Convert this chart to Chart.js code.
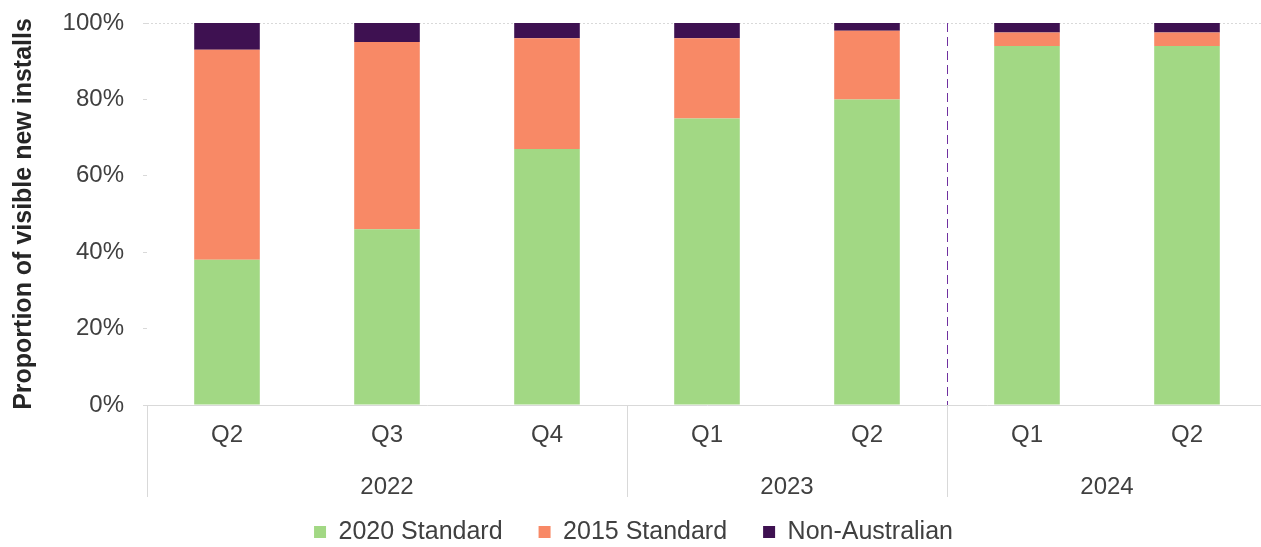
<!DOCTYPE html>
<html>
<head>
<meta charset="utf-8">
<script src="https://cdn.jsdelivr.net/npm/chart.js@4.4.1/dist/chart.umd.min.js"></script>
<style>
  html, body { margin: 0; padding: 0; overflow: hidden; background: #fff; }
  #wrap { position: absolute; left: 0; top: 0; width: 1270px; height: 547px; }
</style>
</head>
<body>
<div id="wrap"><canvas id="chart"></canvas></div>
<script>
const quarters = ['Q2', 'Q3', 'Q4', 'Q1', 'Q2', 'Q1', 'Q2'];
const years = ['2022', '2023', '2024'];
const quartersPerYear = [3, 2, 2];
const std2020 = [38, 46, 67, 75, 80, 94, 94];
const std2015 = [55, 49, 29, 21, 18, 3.5, 3.5];
const nonAustralian = [7, 5, 4, 4, 2, 2.5, 2.5];
const dashedBeforeYear = '2024';

const FONT = "'Liberation Sans', Arial, sans-serif";
const TEXT = '#404040';
const LIGHT = '#d9d9d9';

// where each year starts, and the middle of each year group (in category index units)
const yearStarts = [];
const yearMiddles = [];
let n = 0;
quartersPerYear.forEach(c => {
    yearStarts.push(n);
    yearMiddles.push(n + (c - 1) / 2);
    n += c;
});

// Dashed divider between two years, placed from the x scale
const dividerLine = {
    id: 'dividerLine',
    afterDatasetsDraw(chart) {
        const x = chart.scales.x;
        const i = yearStarts[years.indexOf(dashedBeforeYear)];
        const px = Math.round((x.getPixelForValue(i - 1) + x.getPixelForValue(i)) / 2) + 0.5;
        const { top, bottom } = chart.chartArea;
        const ctx = chart.ctx;
        ctx.save();
        ctx.strokeStyle = '#7030A0';
        ctx.lineWidth = 1;
        ctx.setLineDash([9, 5]);
        ctx.beginPath();
        ctx.moveTo(px, top);
        ctx.lineTo(px, bottom);
        ctx.stroke();
        ctx.restore();
    }
};

// legend keeps a short box in the layout but its items sit a bit lower down
const legendShift = {
    id: 'legendShift',
    afterLayout(chart) {
        chart.legend.top -= 15;
    }
};

const ctx = document.getElementById('chart').getContext('2d');
new Chart(ctx, {
    type: 'bar',
    data: {
        labels: quarters,
        datasets: [
            { label: '2020 Standard', data: std2020, backgroundColor: '#A2D884' },
            { label: '2015 Standard', data: std2015, backgroundColor: '#F88966' },
            { label: 'Non-Australian', data: nonAustralian, backgroundColor: '#3E1151' }
        ]
    },
    options: {
        responsive: true,
        maintainAspectRatio: false,
        animation: false,
        datasets: { bar: { barPercentage: 0.41, categoryPercentage: 1 } },
        layout: { padding: { top: 23, right: 3, left: 0, bottom: 0 } },
        plugins: {
            tooltip: { enabled: false },
            legend: {
                position: 'bottom',
                maxHeight: 48.5,
                labels: {
                    boxWidth: 12,
                    boxHeight: 12,
                    padding: 36,
                    color: TEXT,
                    font: { family: FONT, size: 25 }
                }
            }
        },
        scales: {
            x: {
                type: 'category',
                stacked: true,
                weight: 0,
                grid: {
                    offset: true,
                    drawOnChartArea: false,
                    drawTicks: true,
                    tickLength: 92,
                    tickWidth: 1,
                    tickColor: c => (c.index === undefined || yearStarts.includes(c.index)) ? LIGHT : 'rgba(0,0,0,0)'
                },
                border: { display: true, color: LIGHT, width: 1 },
                ticks: {
                    color: TEXT,
                    font: { family: FONT, size: 24 },
                    padding: -76,
                    maxRotation: 0,
                    autoSkip: false
                },
                afterFit: s => { s.height = 45; }
            },
            x2: {
                type: 'linear',
                position: 'bottom',
                weight: 1,
                offset: false,
                min: -0.5,
                max: quarters.length - 0.5,
                grid: { display: false, offset: false },
                border: { display: false },
                afterBuildTicks: s => { s.ticks = yearMiddles.map(v => ({ value: v })); },
                ticks: {
                    callback: (v, i) => years[i],
                    color: TEXT,
                    font: { family: FONT, size: 24 },
                    padding: 15,
                    maxRotation: 0,
                    autoSkip: false
                },
                afterFit: s => { s.height = 48.5; }
            },
            y: {
                stacked: true,
                min: 0,
                max: 100,
                ticks: {
                    stepSize: 20,
                    callback: v => v + '%',
                    color: TEXT,
                    font: { family: FONT, size: 24 },
                    padding: 19
                },
                grid: {
                    drawTicks: true,
                    tickLength: 4,
                    tickColor: LIGHT,
                    color: c => (c.tick && c.tick.value === 100) ? LIGHT : 'rgba(0,0,0,0)'
                },
                border: { display: false, dash: [2, 2] },
                title: {
                    display: true,
                    text: 'Proportion of visible new installs',
                    color: '#262626',
                    font: { family: FONT, size: 25, weight: 'bold' },
                    padding: { top: 9, bottom: 0 }
                },
                afterFit: s => {
                    s.width = 147;
                    s.paddingTop = 0;
                    s.paddingBottom = 0;
                }
            }
        }
    },
    plugins: [dividerLine, legendShift]
});
</script>
</body>
</html>
